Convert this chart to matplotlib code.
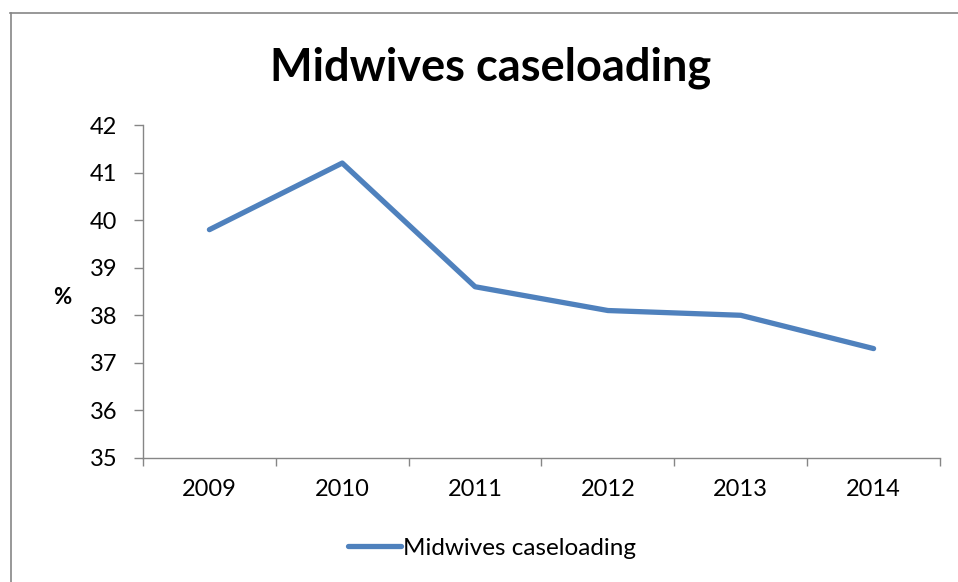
import matplotlib
matplotlib.use('Agg')
import matplotlib.pyplot as plt
from matplotlib.lines import Line2D

years = ['2009', '2010', '2011', '2012', '2013', '2014']
caseloading = [39.8, 41.2, 38.6, 38.1, 38.0, 37.3]
y_ticks = [35, 36, 37, 38, 39, 40, 41, 42]

LINE_BLUE = '#4F81BD'
AXIS_GRAY = '#868686'

plt.rcParams['font.family'] = ['Lato', 'DejaVu Sans']

W, H = 958, 582
fig = plt.figure(figsize=(W / 100, H / 100), dpi=100)
fig.patch.set_facecolor('white')

ax = fig.add_axes([143 / W, 1 - 458 / H, (940 - 143) / W, (458 - 125) / H])
x = list(range(len(years)))
ax.plot(x, caseloading, color=LINE_BLUE, linewidth=3.8,
        solid_capstyle='round', solid_joinstyle='round',
        label='Midwives caseloading')

ax.set_xlim(-0.5, len(years) - 0.5)
ax.set_ylim(35, 42)
ax.set_yticks(y_ticks)
ax.set_yticklabels([str(v) for v in y_ticks])

# category boundaries carry tick marks, centres carry the labels
ax.set_xticks([i - 0.5 for i in range(len(years) + 1)])
ax.set_xticklabels([])
ax.set_xticks(x, minor=True)
ax.set_xticklabels(years, minor=True)

for side in ['top', 'right']:
    ax.spines[side].set_visible(False)
for side in ['left', 'bottom']:
    ax.spines[side].set_color(AXIS_GRAY)
    ax.spines[side].set_linewidth(1.0)

ax.tick_params(axis='y', direction='out', length=6.5, width=1.0,
               color=AXIS_GRAY, labelsize=17, pad=12)
ax.tick_params(axis='x', which='major', direction='out', length=5.5,
               width=1.0, color=AXIS_GRAY)
ax.tick_params(axis='x', which='minor', length=0, labelsize=17, pad=15)

fig.text(491 / W, 1 - 68 / H, 'Midwives caseloading', fontsize=32.5,
         fontweight='bold', ha='center', va='center')
fig.text(62 / W, 1 - 297 / H, '%', fontsize=16, fontweight='bold',
         ha='center', va='center')

fig.legend(loc='center', bbox_to_anchor=(492 / W, 1 - 548 / H),
           frameon=False, fontsize=17.5, handlelength=2.2,
           handletextpad=0.1)

# chart frame (cropped on right and bottom)
fig.add_artist(Line2D([10.5 / W, 10.5 / W], [1 - 13 / H, 0],
                      transform=fig.transFigure, color=AXIS_GRAY, linewidth=1.2))
fig.add_artist(Line2D([10 / W, 1], [1 - 13 / H, 1 - 13 / H],
                      transform=fig.transFigure, color=AXIS_GRAY, linewidth=1.2))

fig.savefig('out.png', dpi=100, facecolor='white')
